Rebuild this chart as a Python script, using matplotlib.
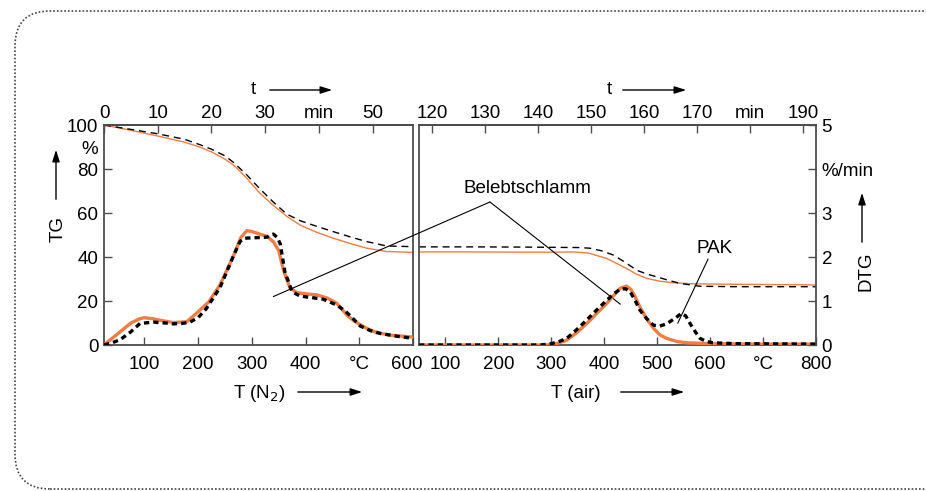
import numpy as np
import matplotlib
matplotlib.use("Agg")
import matplotlib.pyplot as plt
import matplotlib.transforms as mtransforms
from matplotlib.patches import FancyBboxPatch, FancyArrowPatch, ConnectionPatch

plt.rcParams['font.family'] = ['Liberation Sans', 'DejaVu Sans']
plt.rcParams['font.size'] = 13.5

ORANGE = '#f07d45'
SPINE = '#4d4d4d'

# ---- N2 panel (left): temperature in degC ----
T_n2_tg = [25, 75, 125, 175, 204, 225, 250, 266, 290, 315, 340, 365, 390, 420, 452, 485, 514, 551, 600]
tg_n2_sludge = [100, 97.6, 95, 92.2, 89.9, 87.8, 84.5, 81.8, 76, 69, 63.5, 58.5, 54.5, 51.3, 48.5, 46, 44, 42.5, 42.1]
tg_n2_pak = [100, 98, 96, 93.5, 91, 89, 86, 83, 77.5, 71, 65, 59.5, 56.5, 54, 51.5, 49, 47, 45, 44.7]

T_n2_dtg_sludge = [25, 40, 55, 75, 92, 100, 115, 130, 154, 179, 197, 220, 241, 265, 280, 291, 300, 315,
                   328, 340, 350, 359, 365, 371, 384, 402, 421, 440, 458, 477, 490, 502, 517, 533, 560, 600]
dtg_n2_sludge = [0.0, 0.15, 0.3, 0.5, 0.6, 0.62, 0.6, 0.56, 0.51, 0.53, 0.72, 0.98, 1.37, 2.0, 2.45, 2.6, 2.58, 2.52,
                 2.47, 2.35, 2.15, 1.7, 1.5, 1.3, 1.19, 1.16, 1.14, 1.07, 0.95, 0.68, 0.55, 0.46, 0.36, 0.28, 0.22, 0.18]
T_n2_dtg_pak = [25, 40, 55, 75, 92, 117, 140, 154, 170, 185, 200, 215, 241, 265, 278, 285, 291, 310, 328,
                335, 340, 347, 353, 362, 368, 375, 390, 410, 433, 458, 475, 490, 502, 520, 540, 570, 600]
dtg_n2_pak = [0, 0.05, 0.12, 0.3, 0.49, 0.52, 0.5, 0.48, 0.49, 0.52, 0.62, 0.82, 1.31, 2.0, 2.35, 2.42, 2.43, 2.44, 2.45,
              2.5, 2.52, 2.45, 2.3, 1.63, 1.45, 1.21, 1.11, 1.08, 1.04, 0.91, 0.76, 0.58, 0.43, 0.33, 0.26, 0.2, 0.15]

# ---- air panel (right) ----
T_air_tg_sludge = [50, 150, 250, 300, 341, 370, 404, 420, 442, 460, 480, 505, 530, 560, 600, 700, 800]
tg_air_sludge = [42.3, 42.3, 42.2, 42.2, 42.3, 41.8, 39.4, 37.5, 34.8, 32.3, 30.3, 29, 28.3, 27.9, 27.7, 27.5, 27.3]
T_air_tg_pak = [50, 150, 250, 300, 350, 373, 395, 417, 440, 461, 480, 499, 520, 543, 581, 650, 800]
tg_air_pak = [44.6, 44.6, 44.5, 44.4, 44.3, 44, 42.8, 40.9, 37.5, 34, 32.3, 31, 29.5, 28, 26.7, 26.5, 26.5]

T_air_dtg_sludge = [50, 200, 290, 300, 315, 329, 348, 367, 386, 405, 418, 430, 442, 450, 458, 467,
                    480, 493, 505, 518, 537, 556, 600, 700, 800]
dtg_air_sludge = [0, 0, 0, 0.01, 0.05, 0.11, 0.28, 0.49, 0.72, 0.95, 1.13, 1.29, 1.34, 1.27, 1.1, 0.87,
                  0.6, 0.38, 0.23, 0.15, 0.08, 0.05, 0.03, 0.02, 0.02]
T_air_dtg_pak = [50, 200, 280, 300, 315, 329, 348, 367, 386, 405, 418, 430, 440, 449, 458, 467, 480, 493,
                 505, 515, 524, 535, 546, 554, 562, 572, 581, 593, 605, 650, 800]
dtg_air_pak = [0, 0, 0, 0.03, 0.08, 0.15, 0.35, 0.57, 0.8, 1.02, 1.16, 1.27, 1.28, 1.21, 1.02, 0.8, 0.6, 0.45,
               0.43, 0.47, 0.53, 0.62, 0.72, 0.66, 0.49, 0.3, 0.15, 0.08, 0.05, 0.03, 0.02]

# tick labels
n2_T_ticks = [100, 200, 300, 400, 500, 600]
n2_T_labels = ['100', '200', '300', '400', '°C', '600']
n2_t_ticks = [0, 10, 20, 30, 40, 50]
n2_t_labels = ['0', '10', '20', '30', 'min', '50']
air_T_ticks = [100, 200, 300, 400, 500, 600, 700, 800]
air_T_labels = ['100', '200', '300', '400', '500', '600', '°C', '800']
air_t_ticks = [120, 130, 140, 150, 160, 170, 180, 190]
air_t_labels = ['120', '130', '140', '150', '160', '170', 'min', '190']
tg_ticks = [0, 20, 40, 60, 80, 90, 100]
tg_labels = ['0', '20', '40', '60', '80', '%', '100']
dtg_ticks = [0, 1, 2, 3, 4, 5]
dtg_labels = ['0', '1', '2', '3', '%/min', '5']

W, H = 926, 491
fig = plt.figure(figsize=(W / 100, H / 100), dpi=100)


def box(x0, y0, x1, y1):
    return [x0 / W, 1 - y1 / H, (x1 - x0) / W, (y1 - y0) / H]


def fp(x, y):
    return (x / W, 1 - y / H)


ax1 = fig.add_axes(box(104, 125, 413, 345))
ax2 = fig.add_axes(box(419, 125, 816, 345))
ax1.set_xlim(25, 600)
ax2.set_xlim(50, 800)
for ax in (ax1, ax2):
    ax.set_ylim(0, 100)
    for s in ax.spines.values():
        s.set_color(SPINE)
        s.set_linewidth(1.3)
    ax.tick_params(direction='in', length=6, width=1, color=SPINE)
    ax.tick_params(axis='x', pad=8)

ax1d = ax1.twinx()
ax2d = ax2.twinx()
for ax in (ax1d, ax2d):
    ax.set_ylim(0, 5)
    for s in ax.spines.values():
        s.set_visible(False)
ax1d.set_yticks([])
ax2d.set_yticks(dtg_ticks, dtg_labels)
ax2d.tick_params(direction='in', length=6, width=1, color=SPINE, pad=4)

# TG curves (thin)
ax1.plot(T_n2_tg, tg_n2_sludge, color=ORANGE, lw=1.0)
ax1.plot(T_n2_tg, tg_n2_pak, color='black', lw=1.0, dashes=(5, 3.5))
ax2.plot(T_air_tg_sludge, tg_air_sludge, color=ORANGE, lw=1.0)
ax2.plot(T_air_tg_pak, tg_air_pak, color='black', lw=1.0, dashes=(5, 3.5))

# DTG curves (thick)
ax1d.plot(T_n2_dtg_sludge, dtg_n2_sludge, color=ORANGE, lw=2.4, solid_joinstyle='round')
ax1d.plot(T_n2_dtg_pak, dtg_n2_pak, color='black', lw=2.4, dashes=(1.6, 1.2))
ax2d.plot(T_air_dtg_sludge, dtg_air_sludge, color=ORANGE, lw=2.4, solid_joinstyle='round')
ax2d.plot(T_air_dtg_pak, dtg_air_pak, color='black', lw=2.4, dashes=(1.6, 1.2))

# axes ticks
ax1.set_xticks(n2_T_ticks, n2_T_labels)
ax2.set_xticks(air_T_ticks, air_T_labels)
ax1.set_yticks(tg_ticks, tg_labels)
ax1.tick_params(axis='y', pad=4)
ax1.yaxis.get_major_ticks()[5].tick1line.set_visible(False)
ax2.set_yticks([])
ax1.tick_params(axis='y', right=False)

# the "600" label at the panel edge sits a little left of its tick
lab600 = ax1.xaxis.get_major_ticks()[-1].label1
lab600.set_transform(lab600.get_transform() +
                     mtransforms.ScaledTranslation(-6 / 100, 0, fig.dpi_scale_trans))

top1 = ax1.secondary_xaxis('top', functions=(lambda T: (T - 25) / 10, lambda t: t * 10 + 25))
top2 = ax2.secondary_xaxis('top', functions=(lambda T: 117.5 + (T - 50) / 10, lambda t: (t - 117.5) * 10 + 50))
top1.set_xticks(n2_t_ticks, n2_t_labels)
top2.set_xticks(air_t_ticks, air_t_labels)
for top in (top1, top2):
    top.tick_params(direction='in', length=6, width=1, color=SPINE, pad=2)
    top.spines['top'].set_color(SPINE)
    top.spines['top'].set_linewidth(1.3)

# axis titles with arrows
arrow_kw = dict(arrowstyle='-|>,head_length=0.7,head_width=0.22', lw=1.0, color='black',
                mutation_scale=10, transform=fig.transFigure)
fig.text(*fp(58, 229), 'TG', rotation=90, ha='center', va='center')
fig.add_artist(FancyArrowPatch(fp(56, 202), fp(56, 147), **arrow_kw))
fig.text(*fp(866, 271), 'DTG', rotation=90, ha='center', va='center')
fig.add_artist(FancyArrowPatch(fp(862, 245), fp(862, 190), **arrow_kw))
fig.text(*fp(253, 90), 't', ha='center', va='center')
fig.add_artist(FancyArrowPatch(fp(267, 90), fp(335, 90), **arrow_kw))
fig.text(*fp(609, 90), 't', ha='center', va='center')
fig.add_artist(FancyArrowPatch(fp(620, 90), fp(689, 90), **arrow_kw))
fig.text(*fp(259, 393), 'T (N$_2$)', ha='center', va='center')
fig.add_artist(FancyArrowPatch(fp(295, 392), fp(365, 392), **arrow_kw))
fig.text(*fp(576, 393), 'T (air)', ha='center', va='center')
fig.add_artist(FancyArrowPatch(fp(618, 392), fp(687, 392), **arrow_kw))

# annotations
ax2.text(254, 71, 'Belebtschlamm', ha='center', va='center')
fig.add_artist(ConnectionPatch(xyA=(184, 65), coordsA=ax2.transData, xyB=(340, 22), coordsB=ax1.transData,
                               color='black', lw=0.8))
ax2.plot([184, 430], [65, 18.6], color='black', lw=0.8)
ax2.text(608, 44, 'PAK', ha='center', va='center')
ax2.plot([596, 539], [39, 10], color='black', lw=0.8)

# dotted rounded frame
frame = FancyBboxPatch((0.15, 0.02), 9.45, 4.78, boxstyle='round,pad=0,rounding_size=0.35',
                       transform=fig.dpi_scale_trans, fill=False, ec='#444444', lw=1.2,
                       linestyle=(0, (1, 1.2)), clip_on=False)
fig.add_artist(frame)

fig.savefig('out.png', dpi=100)
